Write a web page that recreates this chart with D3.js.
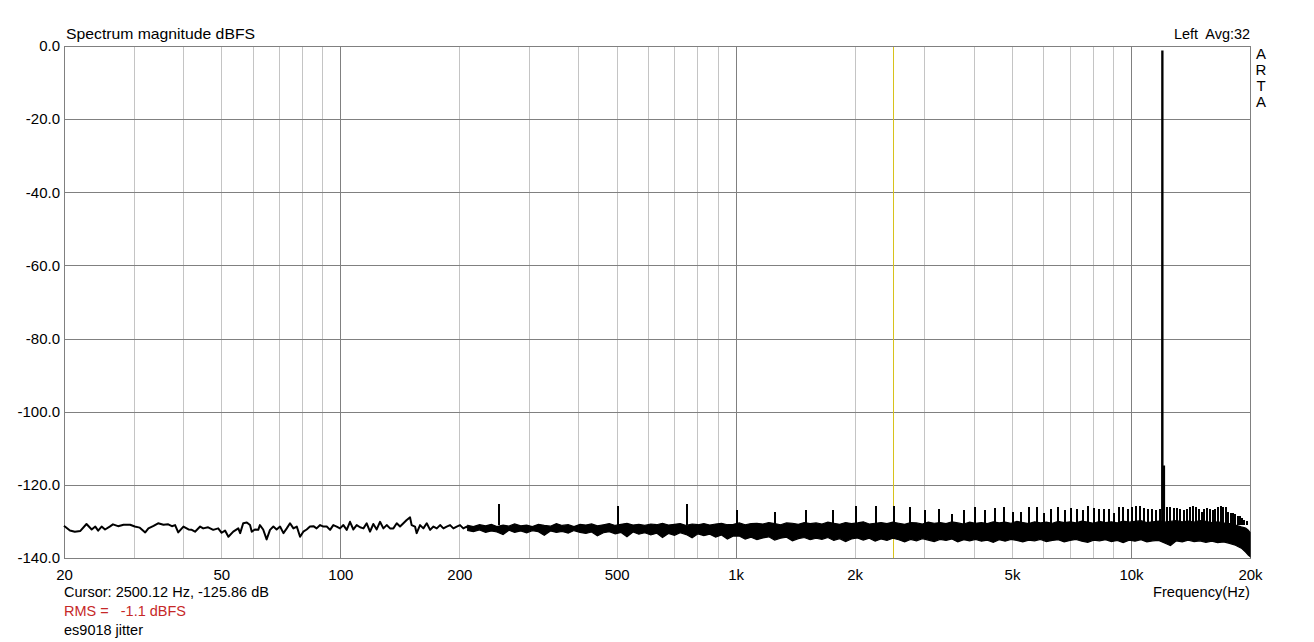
<!DOCTYPE html>
<html><head><meta charset="utf-8">
<script src="https://cdn.jsdelivr.net/npm/d3@7/dist/d3.min.js"></script>
<style>
html,body{margin:0;padding:0;background:#fff;}
svg{display:block;}
text{font-family:"Liberation Sans",Arial,sans-serif;font-size:15px;fill:#000;}
</style></head><body>
<svg id="c" width="1314" height="642"></svg>
<script>
// ---------- data ----------
const xTickValues = [20, 50, 100, 200, 500, 1000, 2000, 5000, 10000, 20000];
const xTickLabels = ["20", "50", "100", "200", "500", "1k", "2k", "5k", "10k", "20k"];
const yTickValues = [0, -20, -40, -60, -80, -100, -120, -140];
const minorGridFreqs = [30, 40, 50, 60, 70, 80, 90, 200, 300, 400, 500, 600, 700, 800, 900,
  2000, 3000, 4000, 5000, 6000, 7000, 8000, 9000];
const majorGridFreqs = [100, 1000, 10000];
const hGridDb = [-20, -40, -60, -80, -100, -120];
const cursorFreq = 2500.12;

// low-frequency trace (single line)
const lowFreq = [20.0, 20.1, 20.7, 21.3, 22.0, 22.8, 23.5, 24.0, 24.4, 24.9, 25.4, 26.1, 26.6, 27.4, 28.3, 29.4,
  30.2, 31.1, 32.1, 32.7, 33.7, 34.6, 35.7, 36.7, 37.5, 38.2, 38.9, 40.1, 41.3, 42.1, 42.9, 44.2, 45.0, 46.3,
  47.7, 49.1, 50.1, 51.1, 52.1, 53.6, 55.2, 55.8, 56.8, 58.0, 59.1, 59.7, 60.8, 62.0, 62.6, 63.8, 65.1, 66.4,
  67.7, 69.0, 70.4, 71.8, 73.2, 74.6, 76.1, 77.6, 79.1, 80.6, 82.2, 83.8, 85.5, 87.1, 88.9, 90.6, 92.4, 94.2,
  96.0, 97.9, 99.8, 101.8, 103.8, 105.8, 107.9, 110.0, 112.2, 114.4, 116.6, 118.9, 121.2, 123.6, 126.0, 128.5,
  131.0, 133.6, 136.2, 138.9, 141.6, 144.4, 147.2, 150.1, 151.5, 154.5, 156.0, 159.1, 162.2, 165.4, 168.7,
  172.0, 175.4, 178.8, 182.3, 185.8, 189.5, 193.2, 197.0, 200.8, 204.7, 208.8];
const lowDb = [-131.2, -131.4, -132.5, -132.8, -132.6, -130.7, -132.2, -131.4, -132.5, -131.4, -132.2, -131.4, -130.8, -131.3, -130.9, -130.9,
  -131.4, -131.7, -133.0, -131.9, -131.2, -130.5, -130.9, -130.8, -131.3, -131.0, -133.0, -131.4, -132.2, -132.3, -132.8, -131.4, -131.9, -131.6,
  -132.3, -131.9, -133.1, -132.5, -134.2, -132.8, -131.9, -133.2, -130.5, -130.3, -131.0, -132.8, -132.2, -132.3, -131.0, -132.2, -134.9, -132.3,
  -131.4, -132.2, -131.4, -133.2, -131.9, -130.5, -131.9, -131.4, -134.2, -132.8, -132.2, -131.4, -131.3, -131.9, -131.0, -131.4, -131.4, -132.3,
  -131.0, -131.4, -131.9, -131.0, -132.3, -130.1, -132.2, -131.0, -131.6, -131.9, -130.5, -132.8, -130.7, -132.2, -130.1, -131.9,
  -131.0, -131.9, -131.9, -130.5, -131.4, -130.5, -129.6, -128.9, -131.0, -131.4, -133.2, -131.0, -131.9, -130.5, -132.3,
  -131.4, -131.9, -131.0, -131.9, -131.4, -131.0, -131.9, -131.4, -131.0, -131.9, -131.4];

// dense noise band (upper / lower envelope)
const bandFreq = [210, 217, 225, 233, 241, 249, 258, 267, 276, 286,
  296, 306, 317, 328, 340, 352, 364, 377, 390, 404,
  418, 432, 447, 463, 479, 496, 513, 531, 550, 569,
  589, 610, 631, 653, 676, 700, 724, 750, 776, 803,
  831, 860, 890, 921, 953, 987, 1021, 1057, 1094, 1132,
  1172, 1213, 1255, 1299, 1345, 1392, 1441, 1491, 1543, 1597,
  1653, 1711, 1771, 1833, 1897, 1963, 2032, 2103, 2177, 2253,
  2332, 2414, 2498, 2586, 2676, 2770, 2867, 2967, 3071, 3178,
  3290, 3405, 3524, 3647, 3775, 3907, 4044, 4185, 4332, 4483,
  4640, 4803, 4971, 5145, 5325, 5511, 5704, 5904, 6110, 6324,
  6546, 6775, 7012, 7257, 7511, 7774, 8046, 8328, 8619, 8921,
  9233, 9556, 9891, 10237, 10595, 10966, 11350, 11747, 12158, 12584,
  13024, 13480, 13952, 14440, 14946, 15469, 16010, 16570, 17150, 17750,
  18372, 19015, 19500, 19800, 20000];
const bandHi = [-131.1, -131.4, -130.9, -131.2, -130.8, -131.4, -131.0, -131.3, -130.7, -131.2,
  -131.0, -131.4, -130.8, -131.1, -131.3, -130.6, -131.1, -130.9, -131.4, -130.8,
  -131.0, -130.7, -131.2, -130.9, -130.6, -131.1, -130.8, -130.5, -131.0, -130.8,
  -131.1, -130.7, -130.9, -130.5, -131.0, -130.8, -130.6, -131.1, -130.7, -130.9,
  -130.6, -131.0, -130.7, -130.5, -130.9, -130.8, -130.4, -130.9, -130.6, -130.5,
  -130.7, -130.3, -130.6, -130.9, -130.4, -130.5, -130.8, -130.3, -130.6, -130.4,
  -130.7, -130.2, -130.5, -130.8, -130.3, -130.6, -130.4, -130.1, -130.7, -130.5,
  -130.3, -130.6, -130.2, -130.5, -130.8, -130.3, -130.4, -130.7, -130.2, -130.5,
  -130.3, -130.6, -130.1, -130.4, -130.7, -130.2, -130.5, -130.3, -130.6, -130.1,
  -130.4, -130.2, -130.5, -130.0, -130.3, -130.6, -130.1, -130.4, -130.2, -130.5,
  -130.0, -130.3, -130.1, -130.4, -129.9, -130.2, -130.5, -130.0, -130.3, -130.1,
  -130.4, -129.9, -130.2, -130.0, -129.8, -130.3, -130.1, -129.9, -130.2, -130.0,
  -129.8, -130.1, -129.9, -130.2, -129.8, -130.0, -130.3, -130.1, -130.4, -130.6,
  -131.0, -131.5, -131.8, -132.4, -133.0];
const bandLo = [-132.5, -132.8, -132.3, -133.0, -132.6, -132.9, -133.6, -132.4, -133.0, -132.6,
  -133.1, -132.5, -132.8, -133.8, -132.6, -133.0, -132.7, -133.2, -132.5, -133.0,
  -133.3, -132.9, -133.9, -133.1, -132.8, -133.4, -133.0, -134.2, -132.9, -133.5,
  -133.1, -133.7, -133.2, -134.4, -133.3, -133.8, -133.1, -133.6, -134.5, -133.4,
  -133.9, -133.5, -134.3, -133.7, -134.8, -134.0, -134.0, -134.8, -134.3, -135.0,
  -134.5, -134.2, -135.1, -134.6, -134.3, -135.3, -134.7, -134.4, -135.0, -134.6,
  -134.9, -134.4, -135.2, -134.7, -135.5, -134.8, -134.5, -135.1, -134.6, -135.4,
  -134.8, -135.2, -134.6, -135.0, -135.6, -134.9, -135.3, -134.7, -135.1, -135.5,
  -134.9, -135.2, -134.8, -135.6, -135.0, -135.3, -134.9, -135.4, -135.1, -135.7,
  -135.0, -135.4, -134.9, -135.2, -135.6, -135.1, -135.3, -134.9, -135.5, -135.2,
  -135.0, -135.6, -135.2, -134.9, -135.4, -135.7, -135.1, -135.3, -135.0, -135.5,
  -135.2, -135.8, -135.1, -135.4, -135.0, -135.6, -135.3, -135.2, -135.9, -136.6,
  -135.3, -135.6, -135.1, -135.5, -135.3, -135.7, -135.4, -135.8, -135.6, -136.0,
  -136.5, -137.3, -138.4, -139.2, -139.6];

// discrete spurs (multiples of 250 Hz)
const spurFreq = [250, 500, 750, 1000, 1250, 1500, 1750, 2000, 2250, 2500,
  2750, 3000, 3250, 3500, 3750, 4000, 4250, 4500, 4750, 5000,
  5250, 5500, 5750, 6000, 6250, 6500, 6750, 7000, 7250, 7500,
  7750, 8000, 8250, 8500, 8750, 9000, 9250, 9500, 9750, 10000,
  10250, 10500, 10750, 11000, 11250, 11500, 11750, 12250, 12500, 12750,
  13000, 13250, 13500, 13750, 14000, 14250, 14500, 14750, 15000, 15250,
  15500, 15750, 16000, 16250, 16500, 16750, 17000, 17250, 17500, 17750,
  18000, 18250, 18500, 18750, 19000, 19250, 19500, 19750];
const spurDb = [-125.3, -125.8, -125.3, -127.0, -127.3, -127.0, -126.9, -125.8, -125.8, -125.8,
  -126.1, -126.9, -126.6, -128.0, -126.9, -126.1, -126.9, -126.4, -126.0, -127.3,
  -127.3, -126.0, -126.1, -127.6, -126.7, -126.1, -126.9, -126.4, -126.7, -126.9,
  -125.8, -126.4, -126.7, -126.7, -126.7, -127.6, -126.1, -126.1, -126.7, -126.0,
  -125.8, -125.8, -126.4, -126.7, -126.7, -127.0, -126.7, -126.1, -126.1, -126.4,
  -126.4, -126.7, -127.0, -126.7, -126.1, -125.8, -126.1, -126.7, -127.3, -126.7,
  -126.4, -126.7, -127.0, -126.7, -126.1, -125.8, -126.0, -126.1, -127.3, -127.6,
  -127.6, -128.0, -128.5, -128.5, -129.0, -129.5, -130.0, -131.0];

// test tone (peak plus first skirt bin)
const toneFreq = [11990, 12000, 12010, 12010, 12120, 12120];
const toneDb = [-131.0, -1.5, -1.5, -115.0, -115.0, -131.0];

// ---------- chart ----------
const svg = d3.select("#c");
const L = 64, R = 1250, T = 46, B = 558;
const x = d3.scaleLog().domain([20, 20000]).range([L, R]);
const y = d3.scaleLinear().domain([-140, 0]).range([B, T]);

svg.append("rect").attr("width", 1314).attr("height", 642).attr("fill", "#fff");

const grid = svg.append("g").attr("shape-rendering", "crispEdges");
grid.selectAll(".minor").data(minorGridFreqs).join("line")
  .attr("x1", d => Math.round(x(d)) + 0.5).attr("x2", d => Math.round(x(d)) + 0.5)
  .attr("y1", T).attr("y2", B).attr("stroke", "#c4c4c4").attr("stroke-width", 1);
grid.selectAll(".major").data(majorGridFreqs).join("line")
  .attr("x1", d => Math.round(x(d)) + 0.5).attr("x2", d => Math.round(x(d)) + 0.5)
  .attr("y1", T).attr("y2", B).attr("stroke", "#808080").attr("stroke-width", 1);
grid.selectAll(".h").data(hGridDb).join("line")
  .attr("x1", L).attr("x2", R)
  .attr("y1", d => Math.round(y(d)) + 0.5).attr("y2", d => Math.round(y(d)) + 0.5)
  .attr("stroke", "#808080").attr("stroke-width", 1);

// cursor
svg.append("line")
  .attr("x1", Math.round(x(cursorFreq)) + 0.5).attr("x2", Math.round(x(cursorFreq)) + 0.5)
  .attr("y1", T).attr("y2", B).attr("stroke", "#d8c21c").attr("stroke-width", 1)
  .attr("shape-rendering", "crispEdges");

// plot frame
svg.append("rect").attr("x", L + 0.5).attr("y", T + 0.5).attr("width", R - L).attr("height", B - T)
  .attr("fill", "none").attr("stroke", "#808080").attr("stroke-width", 1).attr("shape-rendering", "crispEdges");

const plot = svg.append("g");

// band area
const bandData = bandFreq.map((f, i) => ({ f, hi: bandHi[i], lo: bandLo[i] }));
plot.append("path").datum(bandData)
  .attr("d", d3.area().x(d => x(d.f)).y0(d => y(d.lo)).y1(d => y(d.hi)))
  .attr("fill", "#000").attr("stroke", "#000").attr("stroke-width", 1.2).attr("stroke-linejoin", "miter");

// low trace
const lowData = lowFreq.map((f, i) => ({ f, v: lowDb[i] })).concat([{ f: bandFreq[0], v: (bandHi[0] + bandLo[0]) / 2 }]);
plot.append("path").datum(lowData)
  .attr("d", d3.line().x(d => x(d.f)).y(d => y(d.v)))
  .attr("fill", "none").attr("stroke", "#000").attr("stroke-width", 2).attr("stroke-linejoin", "round");

// spurs
plot.selectAll(".spur").data(spurFreq.map((f, i) => ({ f, v: spurDb[i] }))).join("line")
  .attr("x1", d => Math.round(x(d.f)) + 0.5).attr("x2", d => Math.round(x(d.f)) + 0.5)
  .attr("y1", d => y(d.v)).attr("y2", y(-131))
  .attr("stroke", "#000").attr("stroke-width", 2).attr("shape-rendering", "crispEdges");

// tone
plot.append("path").datum(toneFreq.map((f, i) => ({ f, v: toneDb[i] })))
  .attr("d", d3.line().x(d => x(d.f)).y(d => y(d.v)))
  .attr("fill", "#000").attr("stroke", "#000").attr("stroke-width", 2.2);

// axes labels
const yAxis = d3.axisLeft(y).tickValues(yTickValues).tickSize(0).tickPadding(4).tickFormat(d3.format(".1f"));
const gy = svg.append("g").attr("transform", `translate(${L},0)`).call(yAxis);
gy.select(".domain").remove();
gy.selectAll("text").attr("font-family", null).attr("font-size", null).attr("fill", "#000")
  .text(d => d3.format(".1f")(d).replace("\u2212", "-"));

const xAxis = d3.axisBottom(x).tickValues(xTickValues).tickSize(0).tickPadding(11)
  .tickFormat((d, i) => xTickLabels[i]);
const gx = svg.append("g").attr("transform", `translate(0,${B})`).call(xAxis);
gx.select(".domain").remove();
gx.selectAll("text").attr("font-family", null).attr("font-size", null).attr("fill", "#000");

// texts
function label(tx, ty, str, w, anchor, color) {
  const t = svg.append("text").attr("x", tx).attr("y", ty).style("white-space", "pre").text(str);
  if (anchor) t.attr("text-anchor", anchor);
  if (w) t.attr("textLength", w).attr("lengthAdjust", "spacingAndGlyphs");
  if (color) t.style("fill", color);
  return t;
}
label(66, 39, "Spectrum magnitude dBFS", 189);
label(1250, 39, "Left  Avg:32", 76, "end");
["A", "R", "T", "A"].forEach((c, i) => label(1261, 59 + i * 16, c, null, "middle"));
label(1250, 597, "Frequency(Hz)", 97, "end");
label(64, 597, "Cursor: 2500.12 Hz, -125.86 dB", 205);
label(64, 616, "RMS =   -1.1 dBFS", 122, null, "#c62828");
label(64, 635, "es9018 jitter", 79);
</script>
</body></html>
